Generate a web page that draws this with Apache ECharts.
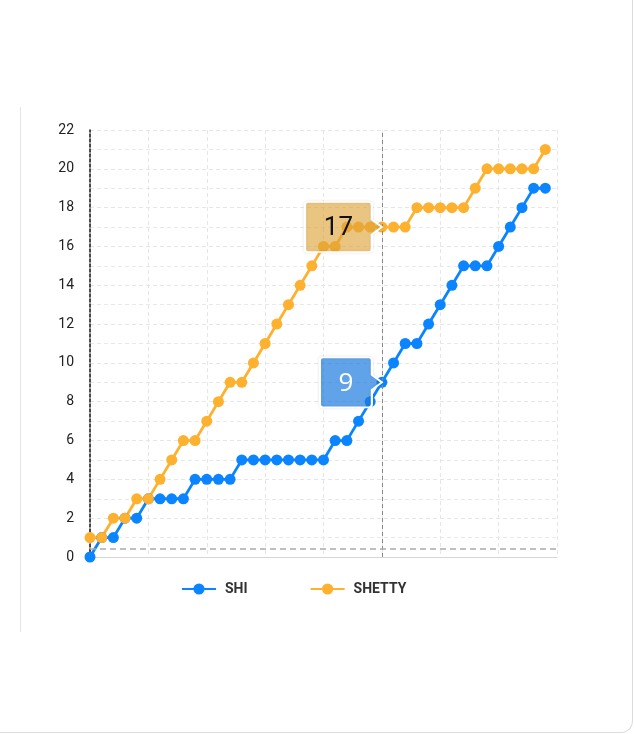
<!DOCTYPE html>
<html>
<head>
<meta charset="utf-8">
<script src="https://cdn.jsdelivr.net/npm/echarts@6/dist/echarts.min.js"></script>
<style>
  html, body { margin: 0; padding: 0; background: #fff; }
  #card { position: absolute; left: 0; top: 0; width: 632px; height: 732px;
          border-right: 1px solid #dcdcdc; border-bottom: 1px solid #dcdcdc;
          border-bottom-right-radius: 12px; }
  #rule { position: absolute; left: 20px; top: 107px; height: 525px; border-left: 1px solid #e6e6e6; }
  #chart { position: absolute; left: 0; top: 0; width: 634px; height: 734px; }
</style>
</head>
<body>
<div id="card"></div>
<div id="rule"></div>
<div id="chart"></div>
<script>
const categories = ['1','2','3','4','5','6','7','8','9','10','11','12','13','14','15','16','17','18','19','20',
  '21','22','23','24','25','26','27','28','29','30','31','32','33','34','35','36','37','38','39','40','41'];
const shiValues = [0,1,1,2,2,3,3,3,3,4,4,4,4,5,5,5,5,5,5,5,5,6,6,7,8,9,10,11,11,12,13,14,15,15,15,16,17,18,19,19];
const shettyValues = [1,1,2,2,3,3,4,5,6,6,7,8,9,9,10,11,12,13,14,15,16,16,17,17,17,17,17,17,18,18,18,18,18,19,20,20,20,20,20,21];
const yTicks = { min: 0, max: 22, interval: 2 };
const hoverIndex = 25;
const pointerY = 0.42;

const chart = echarts.init(document.getElementById('chart'), null, { renderer: 'canvas' });

function boxPath(w) {
  const a = w + 10;
  return 'path://M3,0 L' + (w - 3) + ',0 Q' + w + ',0 ' + w + ',3 L' + w + ',17.5 L' + a + ',25 L' + w +
    ',32.5 L' + w + ',47 Q' + w + ',50 ' + (w - 3) + ',50 L3,50 Q0,50 0,47 L0,3 Q0,0 3,0 Z';
}

chart.setOption({
  animation: false,
  textStyle: { fontFamily: 'Roboto, "Noto Sans", sans-serif' },
  grid: { left: 90, right: 77, top: 130, bottom: 177, containLabel: false },
  legend: {
    left: 181, top: 582, padding: 0,
    itemWidth: 34, itemHeight: 14, itemGap: 62,
    textStyle: { fontSize: 14, fontWeight: 'bold', color: '#333', padding: [0, 0, 0, 4] },
    data: ['SHI', 'SHETTY']
  },
  xAxis: {
    type: 'category',
    data: categories,
    boundaryGap: false,
    axisLine: { show: true, lineStyle: { color: '#d6d6d6', width: 1 } },
    axisTick: { show: false },
    axisLabel: { show: false },
    splitLine: { show: true, interval: 4, lineStyle: { color: '#e6e6e6', type: [4, 3] } }
  },
  yAxis: {
    type: 'value',
    min: yTicks.min, max: yTicks.max, interval: yTicks.interval,
    axisLine: { show: true, lineStyle: { color: '#111', width: 1.5, type: [3, 2] } },
    axisTick: { show: false },
    axisLabel: { color: '#222', fontSize: 14, margin: 16 },
    splitLine: { show: true, lineStyle: { color: '#e6e6e6', type: [4, 3] } },
    minorTick: { show: false, splitNumber: 2 },
    minorSplitLine: { show: true, lineStyle: { color: '#e9e9e9', type: [4, 3] } }
  },
  series: [
    {
      name: 'SHI', type: 'line', data: shiValues,
      symbol: 'circle', symbolSize: 11, showSymbol: true, showAllSymbol: true,
      itemStyle: { color: '#0A84FF' },
      lineStyle: { color: '#0A84FF', width: 2.8 },
      markLine: {
        silent: true, symbol: 'none', label: { show: false },
        data: [
          { xAxis: categories[hoverIndex], lineStyle: { color: '#888', type: [4, 3], width: 1 } },
          { yAxis: pointerY, lineStyle: { color: '#aaa', type: [6, 4], width: 1.5 } }
        ]
      },
      markPoint: {
        silent: true,
        data: [{
          coord: [categories[hoverIndex], shiValues[hoverIndex]],
          value: shiValues[hoverIndex],
          symbol: boxPath(52), symbolSize: [62, 50], symbolOffset: [-31, 0],
          itemStyle: { color: 'rgba(30,128,232,0.68)', borderColor: '#fff', borderWidth: 2,
                       shadowBlur: 3, shadowColor: 'rgba(0,0,0,0.12)' },
          label: { show: true, position: 'inside', offset: [-5, 1], fontSize: 26, color: '#fff',
                   fontFamily: '"Open Sans", sans-serif' }
        }]
      }
    },
    {
      name: 'SHETTY', type: 'line', data: shettyValues,
      symbol: 'circle', symbolSize: 11, showSymbol: true, showAllSymbol: true,
      itemStyle: { color: '#FEB12F' },
      lineStyle: { color: '#FEB12F', width: 2.8 },
      markPoint: {
        silent: true,
        data: [{
          coord: [categories[hoverIndex], shettyValues[hoverIndex]],
          value: shettyValues[hoverIndex],
          symbol: boxPath(67), symbolSize: [77, 50], symbolOffset: [-38.5, 0],
          itemStyle: { color: 'rgba(232,170,56,0.6)', borderColor: '#fff', borderWidth: 2,
                       shadowBlur: 3, shadowColor: 'rgba(0,0,0,0.12)' },
          label: { show: true, position: 'inside', offset: [-5, 1], fontSize: 26, color: '#111',
                   fontFamily: 'Roboto, sans-serif' }
        }]
      }
    }
  ]
});
</script>
</body>
</html>
